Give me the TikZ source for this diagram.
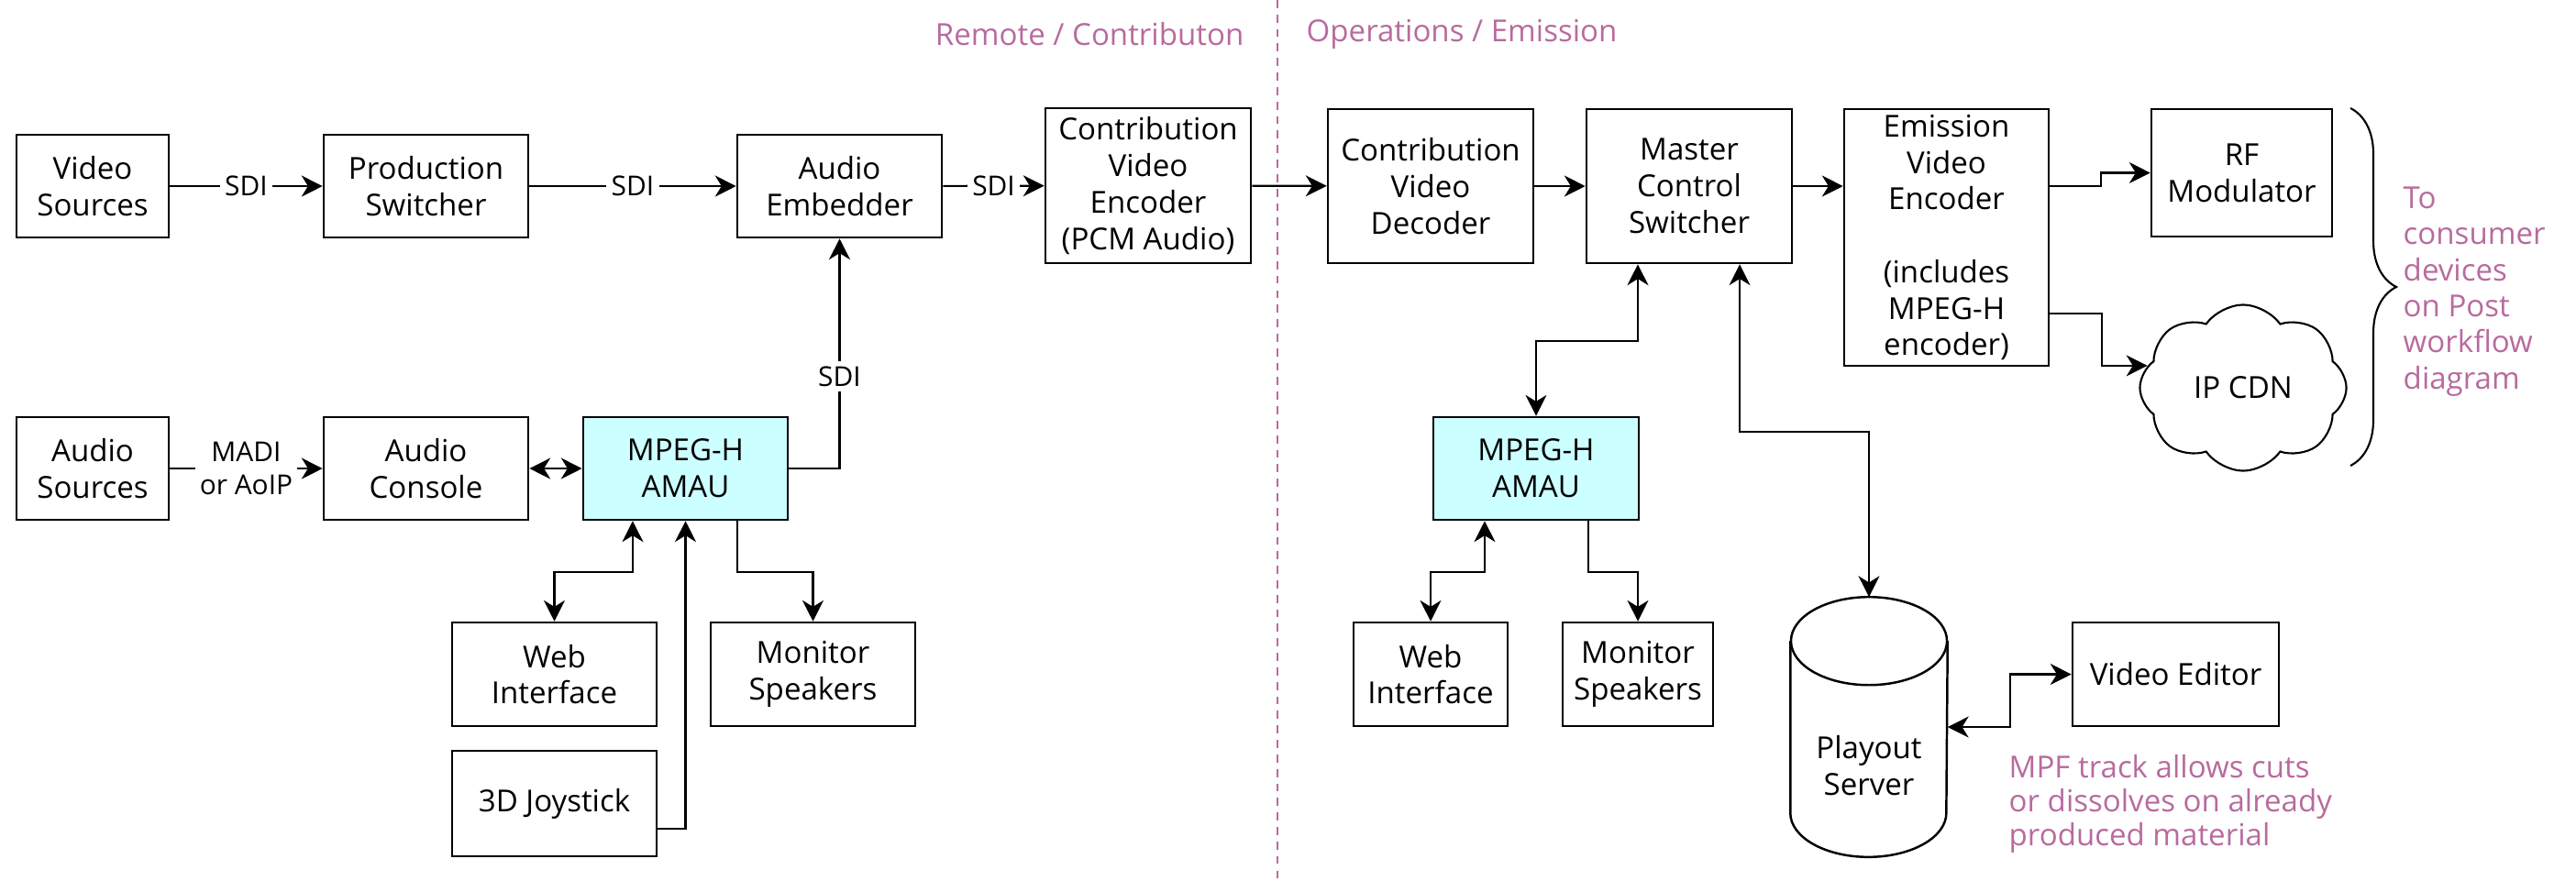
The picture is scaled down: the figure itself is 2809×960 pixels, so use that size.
\documentclass[tikz,border=0pt]{standalone}
\usepackage{fontspec}
\setmainfont{Open Sans}
\usetikzlibrary{arrows.meta,shapes.symbols,decorations.pathreplacing,calc}
\definecolor{mauve}{RGB}{184,107,158}
\definecolor{amaucyan}{RGB}{204,255,255}

\begin{document}
\begin{tikzpicture}[x=0.01cm,y=-0.01cm,
    >={Stealth[length=6.5pt,width=6.5pt,inset=2pt]},
    box/.style={draw, line width=0.7pt, align=center, inner sep=0pt, minimum width=2.23cm, minimum height=1.12cm, font=\fontsize{9.4}{11.3}\selectfont},
    amau/.style={box, fill=amaucyan},
    link/.style={line width=0.6pt},
    sdi/.style={fill=white, inner sep=1.5pt, align=center, font=\fontsize{8.5}{10}\selectfont},
    note/.style={text=mauve, align=left, inner sep=0pt, font=\fontsize{9.4}{10.8}\selectfont}]

\useasboundingbox (0,0) rectangle (2809,960);

    \node[box, minimum width=1.66cm] (1) at (101,203) {Video\\Sources};
    \node[box] (2) at (464.5,203) {Production\\Switcher};
    \node[box] (3) at (915.5,203) {Audio\\Embedder};
    \node[box, minimum width=2.24cm, minimum height=1.69cm] (4) at (1252,202.5) {Contribution\\Video\\Encoder\\(PCM Audio)};
    \node[box, minimum width=2.24cm, minimum height=1.68cm] (5) at (1560,203) {Contribution\\Video\\Decoder};
    \node[box, minimum width=2.24cm, minimum height=1.68cm] (6) at (1842,203) {Master\\Control\\Switcher};
    \node[box, minimum height=2.80cm] (7) at (2122.5,259) {Emission\\Video\\Encoder\\[11.3pt](includes\\MPEG-H\\encoder)};
    \node[box, minimum width=1.97cm, minimum height=1.39cm] (8) at (2444.5,188.5) {RF\\Modulator};
    \node[draw, cloud, cloud puffs=8, cloud puff arc=110, aspect=1.2, line width=0.6pt, minimum width=2.25cm, minimum height=1.81cm, inner sep=0pt, font=\fontsize{9.4}{11.3}\selectfont] (9) at (2446,423) {IP CDN};

    \node[box, minimum width=1.66cm] (10) at (101,511) {Audio\\Sources};
    \node[box] (11) at (464.5,511) {Audio\\Console};
    \node[amau] (12) at (747.5,511) {MPEG-H\\AMAU};
    \node[box, minimum height=1.13cm] (13) at (604.5,735.5) {Web\\Interface};
    \node[box, minimum height=1.13cm] (14) at (886.5,735.5) {Monitor\\Speakers};
    \node[box, minimum height=1.15cm] (15) at (604.5,876.5) {3D Joystick};

    \node[amau, minimum width=2.24cm] (16) at (1675,511) {MPEG-H\\AMAU};
    \node[box, minimum width=1.68cm, minimum height=1.13cm] (17) at (1560,735.5) {Web\\Interface};
    \node[box, minimum width=1.64cm, minimum height=1.13cm] (18) at (1786,735.5) {Monitor\\Speakers};
    \node[minimum width=1.70cm, minimum height=2.82cm, inner sep=0pt] (19) at (2038,793) {};
    \node[align=center, font=\fontsize{9.4}{11.3}\selectfont] (20) at (2038,835) {Playout\\Server};
    \node[box, minimum width=2.25cm, minimum height=1.13cm] (21) at (2372.5,735.5) {Video Editor};

    \node[note, anchor=east] (22) at (1357,37) {Remote / Contributon};
    \node[note, anchor=west] (23) at (1424,37) {Operations / Emission};
    \node[note, anchor=west, font=\fontsize{9.4}{11.2}\selectfont] (24) at (2620,318) {To\\consumer\\devices\\on Post\\workflow\\diagram};
    \node[note, anchor=west, font=\fontsize{9.4}{10.5}\selectfont] (25) at (2190,877) {MPF track allows cuts\\or dissolves on already\\produced material};

\draw[mauve, line width=0.8pt, dash pattern=on 2.5pt off 2pt] (1393,0) -- (1393,960);
\draw[line width=0.7pt] ($(19.north)+(0,48)$) ellipse [x radius=0.85cm, y radius=0.48cm];
\draw[line width=0.7pt] ($(19.north west)+(0,48)$) -- ($(19.south west)+(0,-48)$) arc[start angle=180, end angle=360, x radius=0.85cm, y radius=0.48cm] -- ($(19.north east)+(0,48)$);
\draw[line width=0.6pt, decorate, decoration={brace, amplitude=0.5cm}] (2563,118) -- (2563,508);

\draw[link,->] (1) -- node[sdi] {SDI} (2);
\draw[link,->] (2) -- node[sdi] {SDI} (3);
\draw[link,->] (3) -- node[sdi] {SDI} (4);
\draw[link,->] (4) -- (5);
\draw[link,->] (5) -- (6);
\draw[link,->] (6) -- (7.west |- 6);
\draw[link,->] (7.east |- 6) -- ++(56,0) |- (8);
\draw[link,->] ([yshift=-0.83cm]7.east) -- ++(57,0) |- (9.167);

\draw[link,->] (10) -- node[sdi] {MADI\\or AoIP} (11);
\draw[link,<->] (11) -- (12);
\draw[link,->] (12) -| node[sdi, pos=0.7] {SDI} (3);
\draw[link,<->] ([xshift=-0.575cm]12.south) -- ++(0,56) -| (13);
\draw[link,->] ([xshift=0.565cm]12.south) -- ++(0,56) -| (14);
\draw[link,->] ([yshift=-0.275cm]15.east) -| (12);

\draw[link,<->] ([xshift=-0.56cm]6.south) -- ++(0,84) -| (16);
\draw[link,<->] ([xshift=0.55cm]6.south) -- ++(0,183) -| (19);
\draw[link,<->] ([xshift=-0.56cm]16.south) -- ++(0,56) -| (17);
\draw[link,->] ([xshift=0.57cm]16.south) -- ++(0,56) -| (18);
\draw[link,<->] (19.east) -- ++(68,0) |- (21);
\end{tikzpicture}
\end{document}
